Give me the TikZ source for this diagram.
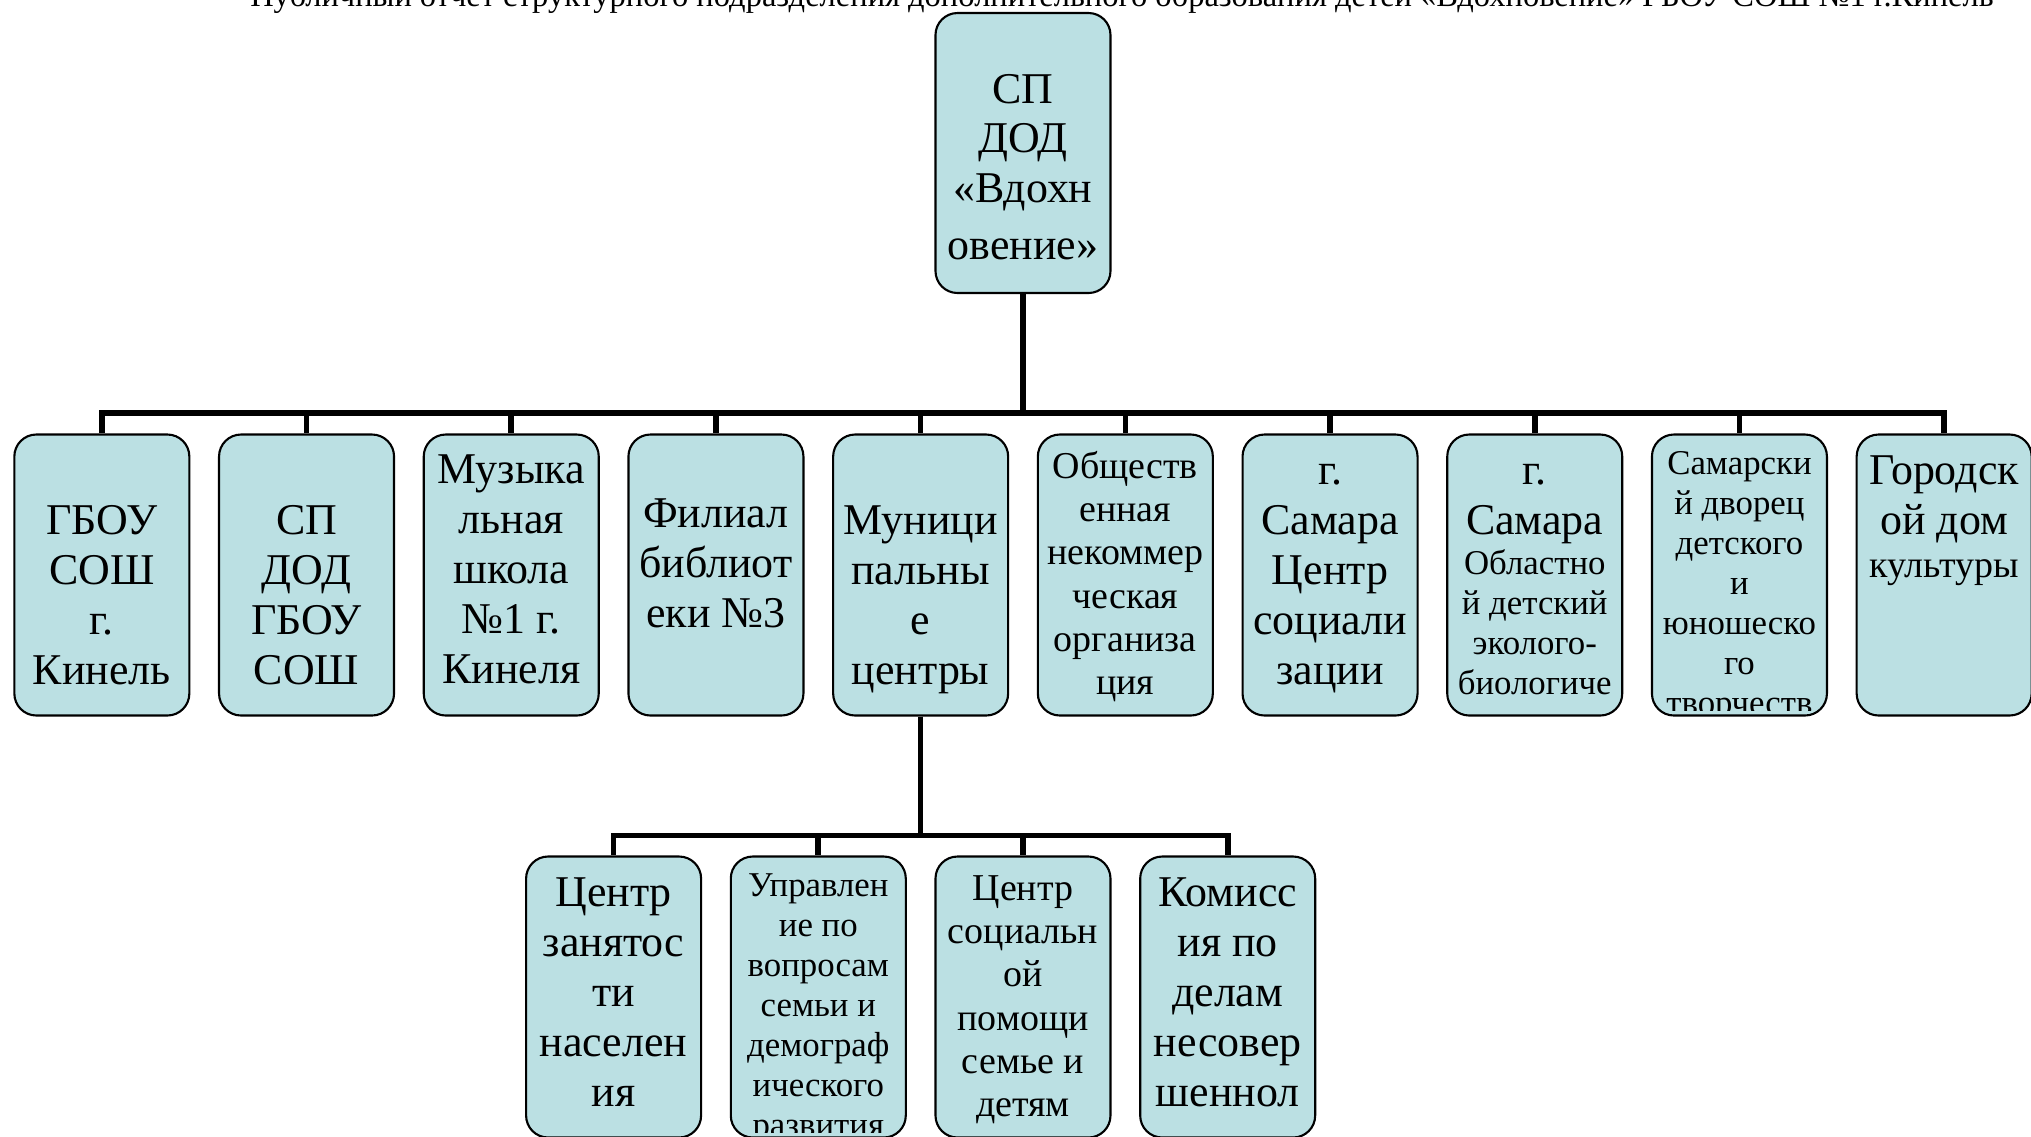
\documentclass[tikz,border=0pt]{standalone}
\usepackage{fontspec}
\setmainfont{Liberation Serif}

\definecolor{boxfill}{RGB}{187,224,227}
\newcommand\fbig{\fontsize{12.5pt}{14.2pt}\selectfont\lineskiplimit=-1cm\relax}
\newcommand\fmid{\fontsize{10.8pt}{12.3pt}\selectfont}
\newcommand\fsml{\fontsize{9.9pt}{11.4pt}\selectfont}

\tikzset{
    boxtext/.style={text width=1.75cm, align=flush center, inner sep=0pt, font=\fbig},
    orgbox/.style 2 args={
        draw, line width=0.6pt, fill=boxfill, rounded corners=0.22cm,
        minimum width=1.75cm, minimum height=2.81cm, inner sep=0pt,
        path picture={
            \clip[sharp corners] ([yshift=0.05cm]path picture bounding box.south west)
                rectangle ([yshift=1cm]path picture bounding box.north east);
            \node[boxtext, draw=none, fill=none, anchor=base]
                at ([yshift=-#1]path picture bounding box.north) {#2\endgraf};
        }
    },
}

\begin{document}
\begin{tikzpicture}
        [
            level distance = 4.22cm,
            sibling distance = 2.047cm,
            edge from parent/.style={draw, line width=1.6pt},
            edge from parent path={(\tikzparentnode.south) -- +(0,-1.19) -| (\tikzchildnode.north)},
        ]
        \useasboundingbox (0,0) rectangle (20.31,-11.36);
        \node[anchor=base, font=\fontsize{9.25pt}{11pt}\selectfont] (header) at (11.22,-0.06)
            {Публичный отчет структурного подразделения дополнительного образования детей «Вдохновение» ГБОУ СОШ №1 г.Кинель};
        \node[orgbox={0.90cm}{СП\\ДОД\\«Вдохн\\[0.07cm]овение»}, minimum height=2.80cm] (root) at (10.23,-1.53) {}
        child {node[orgbox={1.00cm}{ГБОУ\\СОШ\\г.\\Кинель}] (gbou) {}}
        child {node[orgbox={1.00cm}{СП\\ДОД\\ГБОУ\\СОШ}] (spdod) {}}
        child {node[orgbox={0.49cm}{Музыка\\льная\\школа\\№1 г.\\Кинеля}] (music) {}}
        child {node[orgbox={0.93cm}{Филиал\\библиот\\еки №3}] (library) {}}
        child {
            node[orgbox={1.00cm}{Муници\\пальны\\е\\центры}] (centers) {}
            child {node[orgbox={0.50cm}{Центр\\занятос\\ти\\населен\\ия}] (employment) {}}
            child {node[orgbox={0.40cm}{\fsml Управлен\\ие по\\вопросам\\семьи и\\демограф\\ического\\развития}] (family) {}}
            child {node[orgbox={0.44cm}{\fmid Центр\\социальн\\ой\\помощи\\семье и\\детям}] (aid) {}}
            child {node[orgbox={0.50cm}{Комисс\\ия по\\делам\\несовер\\шеннол}] (minors) {}}
        }
        child {node[orgbox={0.44cm}{\fmid Обществ\\енная\\некоммер\\ческая\\организа\\ция}] (ngo) {}}
        child {node[orgbox={0.50cm}{г.\\Самара\\Центр\\социали\\зации}] (socialization) {}}
        child {node[orgbox={0.50cm}{г.\\Самара\endgraf\fsml Областно\\й детский\\эколого-\\биологиче}] (ecobio) {}}
        child {node[orgbox={0.40cm}{\fsml Самарски\\й дворец\\детского\\и\\юношеско\\го\\творчеств}] (palace) {}}
        child {node[orgbox={0.50cm}{Городск\\ой дом\endgraf\fmid культуры}] (culture) {}}
        ;
\end{tikzpicture}
\end{document}
